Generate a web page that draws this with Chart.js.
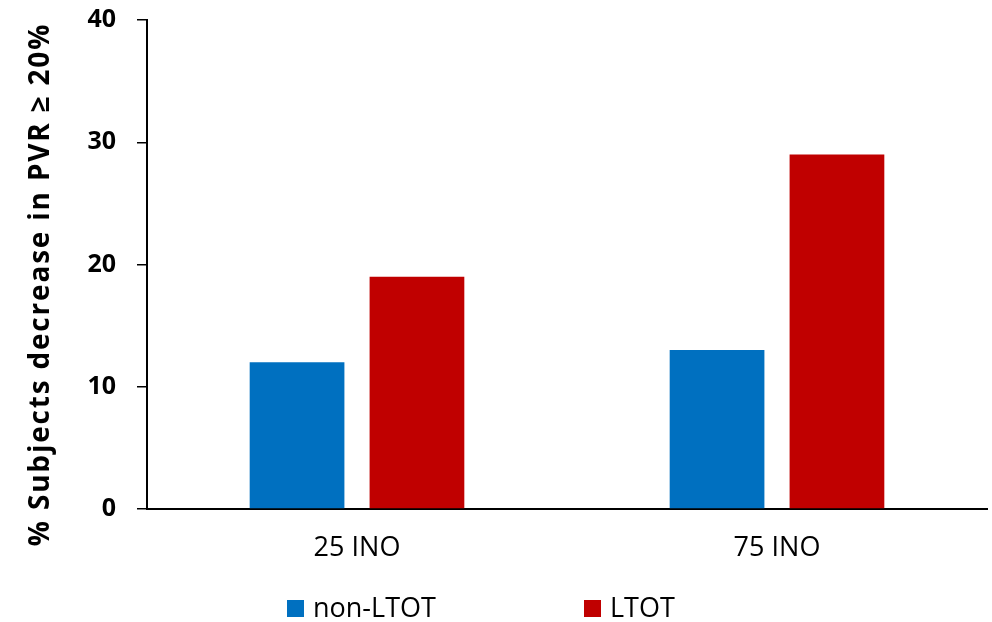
<!DOCTYPE html>
<html>
<head>
<meta charset="utf-8">
<script src="https://cdn.jsdelivr.net/npm/chart.js@4"></script>
<style>
  html, body { margin: 0; padding: 0; background: #ffffff; }
  #wrap { width: 992px; height: 622px; position: relative; }
</style>
</head>
<body>
<div id="wrap"><canvas id="c" width="992" height="622"></canvas></div>
<script>
// Data
const categories = ['25 INO', '75 INO'];
const nonLtotValues = [12, 13];
const ltotValues = [19, 29];
const seriesNames = ['non-LTOT', 'LTOT'];
const seriesColors = ['#0070C0', '#C00000'];
const yTickValues = [0, 10, 20, 30, 40];
const yTitleText = '% Subjects decrease in PVR \u2265 20%';

const FONT = "'Open Sans', 'DejaVu Sans', sans-serif";

// Rotated y-axis title
const yTitlePlugin = {
  id: 'yTitle',
  afterDraw(chart) {
    const { ctx, chartArea } = chart;
    ctx.save();
    ctx.translate(41, (chartArea.top + chartArea.bottom) / 2 + 20);
    ctx.rotate(-Math.PI / 2);
    ctx.textAlign = 'center';
    ctx.textBaseline = 'middle';
    ctx.fillStyle = '#000000';
    ctx.font = 'bold 28px ' + FONT;
    if ('letterSpacing' in ctx) ctx.letterSpacing = '1.8px';
    ctx.fillText(yTitleText, 0, 0);
    ctx.restore();
  }
};

// Legend row under the axis labels
const legendRowPlugin = {
  id: 'legendRow',
  afterDraw(chart) {
    const { ctx, chartArea } = chart;
    const starts = [chartArea.left + 140, chartArea.left + 437];
    const baseY = 617;
    ctx.save();
    ctx.font = '27px ' + FONT;
    ctx.textAlign = 'left';
    ctx.textBaseline = 'alphabetic';
    seriesNames.forEach((name, i) => {
      ctx.fillStyle = seriesColors[i];
      ctx.fillRect(starts[i], baseY - 17, 17, 17);
      ctx.fillStyle = '#000000';
      ctx.fillText(name, starts[i] + 26, baseY);
    });
    ctx.restore();
  }
};

new Chart(document.getElementById('c'), {
  type: 'bar',
  data: {
    labels: categories,
    datasets: [
      {
        label: seriesNames[0],
        data: nonLtotValues,
        backgroundColor: seriesColors[0],
        borderWidth: 0,
        barPercentage: 0.79,
        categoryPercentage: 0.571
      },
      {
        label: seriesNames[1],
        data: ltotValues,
        backgroundColor: seriesColors[1],
        borderWidth: 0,
        barPercentage: 0.79,
        categoryPercentage: 0.571
      }
    ]
  },
  options: {
    responsive: false,
    animation: false,
    devicePixelRatio: 1,
    layout: { padding: { top: 20, right: 5, left: 0, bottom: 0 } },
    plugins: {
      legend: { display: false },
      tooltip: { enabled: false }
    },
    scales: {
      x: {
        grid: { display: true, drawOnChartArea: false, drawTicks: false },
        border: { display: true, color: '#000000', width: 2 },
        ticks: {
          color: '#000000',
          font: { family: FONT, size: 27 },
          padding: 23
        },
        afterFit(scale) {
          scale.height = 113;
          scale.paddingLeft = 0;
          scale.paddingRight = 0;
        }
      },
      y: {
        min: 0,
        max: 40,
        afterBuildTicks(scale) {
          scale.ticks = yTickValues.map(v => ({ value: v }));
        },
        grid: {
          drawOnChartArea: false,
          drawTicks: true,
          tickLength: 10,
          color: '#000000',
          lineWidth: 1.5
        },
        border: { display: true, color: '#000000', width: 2 },
        ticks: {
          color: '#000000',
          font: { family: FONT, size: 25, weight: 'bold' },
          padding: 21
        },
        afterFit(scale) {
          scale.width = 147;
          scale.paddingTop = 0;
          scale.paddingBottom = 0;
        }
      }
    }
  },
  plugins: [yTitlePlugin, legendRowPlugin]
});
</script>
</body>
</html>
